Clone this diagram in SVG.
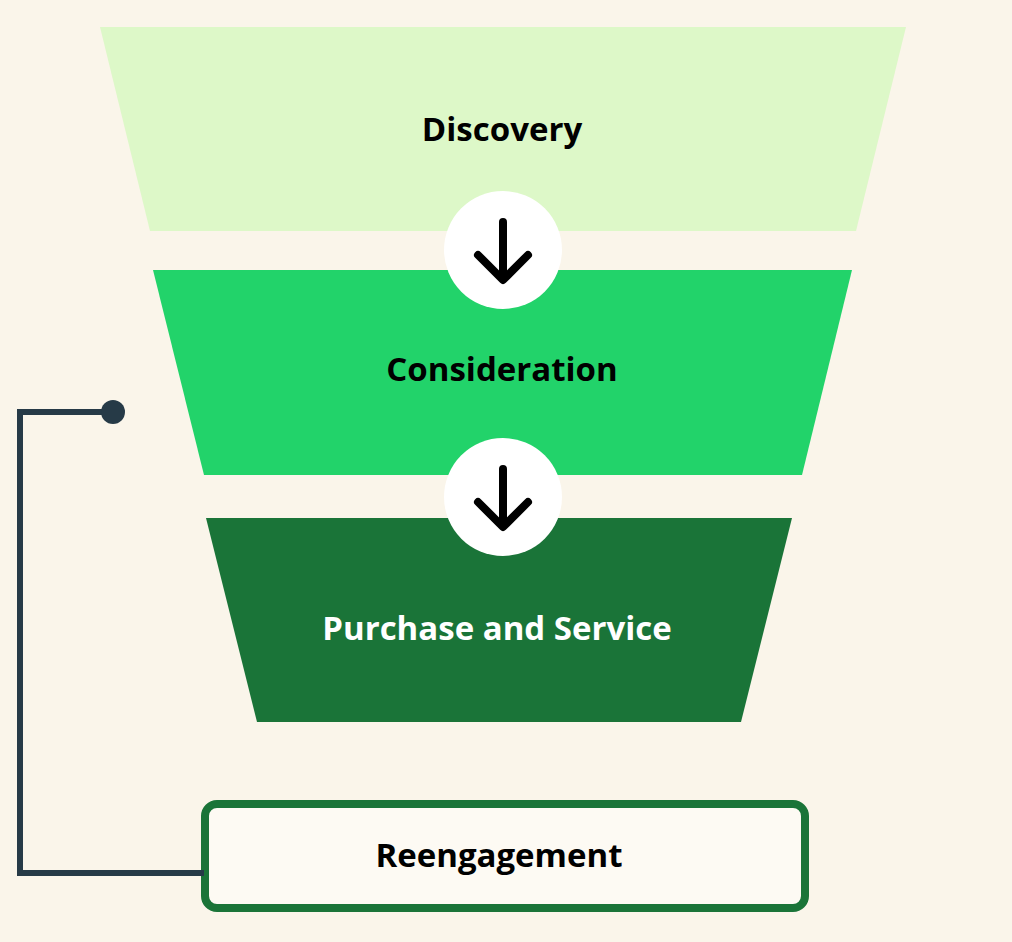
<svg xmlns="http://www.w3.org/2000/svg" width="1012" height="942" viewBox="0 0 1012 942">
<style>
.t{font-family:"Open Sans","Liberation Sans",sans-serif;font-weight:700;font-size:33px;text-anchor:middle;dominant-baseline:central}
.arr{fill:none;stroke:#000;stroke-width:8;stroke-linecap:round;stroke-linejoin:round}
</style>
<rect width="1012" height="942" fill="#faf5ea"/>
<g id="discovery"><polygon points="100,27 906,27 856,231 150,231" fill="#ddf8c8"/><text class="t" x="502" y="128">Discovery</text></g>
<g id="consideration"><polygon points="153,270 852,270 802,475 204,475" fill="#22d36a"/><text class="t" x="502" y="368">Consideration</text></g>
<g id="purchase"><polygon points="206,518 792,518 741,722 257,722" fill="#1a7438"/><text class="t" x="497" y="627" fill="#fff">Purchase and Service</text></g>
<g id="reengagement"><rect x="205" y="804" width="600" height="104" rx="12" fill="#fdfaf3" stroke="#1a7438" stroke-width="8"/><text class="t" x="499" y="854">Reengagement</text></g>
<g id="connectors">
<g><circle cx="503" cy="250" r="59" fill="#fff"/><path class="arr" d="M503 222V278M478 255L503 280L528 255"/></g>
<g><circle cx="503" cy="497" r="59" fill="#fff"/><path class="arr" d="M503 469V525M478 502L503 527L528 502"/></g>
<path d="M204 873H20V412H113" fill="none" stroke="#263a47" stroke-width="6"/>
<circle cx="113" cy="412" r="12" fill="#263a47"/>
</g>
</svg>
